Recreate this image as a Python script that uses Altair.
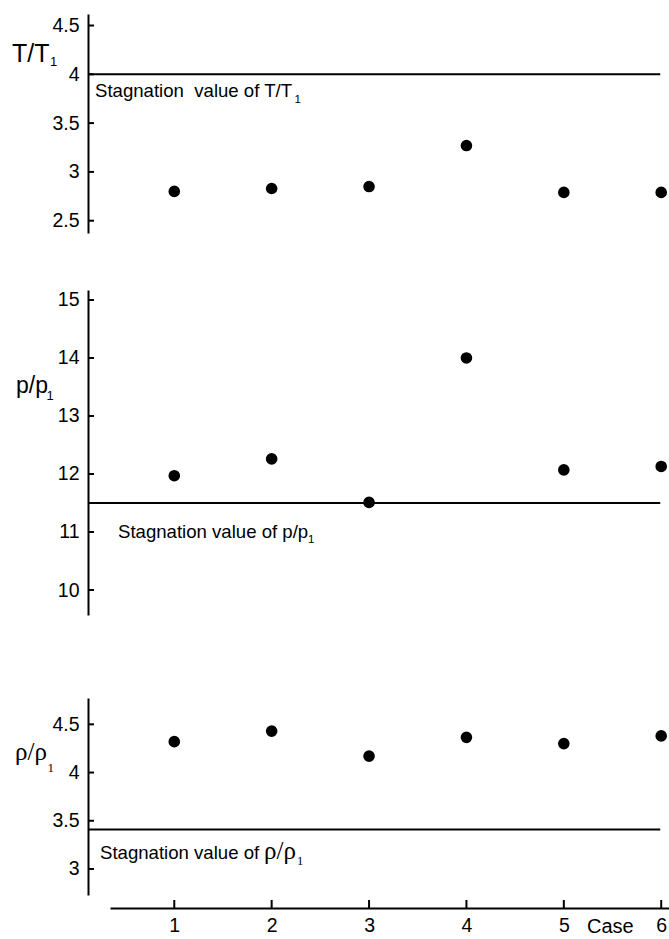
import altair as alt
import pandas as pd

# ---- data -------------------------------------------------------------
cases = [1, 2, 3, 4, 5, 6]

temp_ratio = [2.80, 2.83, 2.85, 3.27, 2.79, 2.79]          # T/T1
pressure_ratio = [11.97, 12.26, 11.51, 14.00, 12.07, 12.13]  # p/p1
density_ratio = [4.32, 4.43, 4.17, 4.365, 4.30, 4.38]      # rho/rho1

stag_temp = 4.0
stag_pressure = 11.5
stag_density = 3.41
# stagnation lines run from the y axis to the last case
stag_line_start = 0.114
stag_line_end = 5.99

temp_ticks = [2.5, 3, 3.5, 4, 4.5]
pressure_ticks = [10, 11, 12, 13, 14, 15]
density_ticks = [3, 3.5, 4, 4.5]

SANS = "Liberation Sans"
SERIF = "Liberation Serif"
TICK_FS = 19.5
NOTE_FS = 18.6

# ---- shared x scale (case number) -----------------------------------------
x_scale = alt.Scale(domain=[0.34, 6.08], range=[22, 581], nice=False, zero=False)

x_axis = alt.Axis(
    values=cases, format="d", title=None, orient="bottom",
    tickSize=0, labelPadding=8, labelFlush=False,
    domainWidth=2, domainColor="black", labelColor="black",
    labelFont=SANS, labelFontSize=TICK_FS, grid=False,
)


def y_axis(ticks):
    return alt.Axis(
        values=ticks, format="~g", title=None, orient="left",
        tickSize=0, labelPadding=9, labelFlush=False,
        domainWidth=2, domainColor="black", labelColor="black",
        labelFont=SANS, labelFontSize=TICK_FS, grid=False,
    )


def text(label, x, y, size, font=SANS):
    return alt.Chart(pd.DataFrame({"s": [label]})).mark_text(
        align="left", baseline="alphabetic", font=font, fontSize=size, color="black"
    ).encode(x=alt.value(x), y=alt.value(y), text="s:N")


def panel(values, ticks, stag, domain, y_range):
    ys = alt.Scale(domain=domain, range=y_range, nice=False, zero=False)

    points = alt.Chart(pd.DataFrame({"case": cases, "v": values})).mark_circle(
        size=135, color="black", opacity=1
    ).encode(
        x=alt.X("case:Q", scale=x_scale, axis=x_axis),
        y=alt.Y("v:Q", scale=ys, axis=y_axis(ticks)),
    )

    # inward-pointing y ticks
    tick_marks = alt.Chart(pd.DataFrame({"t": ticks})).mark_rule(
        color="black", strokeWidth=2
    ).encode(
        x=alt.value(0), x2=alt.value(6),
        y=alt.Y("t:Q", scale=ys, axis=None),
    )

    # stagnation reference line
    stag_line = alt.Chart(pd.DataFrame({
        "v": [stag], "start": [stag_line_start], "end": [stag_line_end]
    })).mark_rule(color="black", strokeWidth=2).encode(
        x=alt.X("start:Q", scale=x_scale, axis=x_axis),
        x2=alt.X2("end:Q"),
        y=alt.Y("v:Q", scale=ys, axis=None),
    )
    return [points, stag_line, tick_marks]


temp_layers = panel(temp_ratio, temp_ticks, stag_temp, [2.374, 4.618], [233, 14])
pressure_layers = panel(pressure_ratio, pressure_ticks, stag_pressure, [9.569, 15.172], [615, 290])
density_layers = panel(density_ratio, density_ticks, stag_density, [2.730, 4.773], [895, 698])

# upward x ticks on the case axis
x_ticks = alt.Chart(pd.DataFrame({"case": cases})).mark_rule(
    color="black", strokeWidth=2
).encode(
    x=alt.X("case:Q", scale=x_scale, axis=x_axis),
    y=alt.value(900), y2=alt.value(908),
)

labels = [
    # T/T1
    text("T/T", -76, 61.5, 25),
    text("1", -38, 66, 13),
    text("Stagnation\u00a0 value of T/T", 7, 97, NOTE_FS),
    text("1", 206.5, 102.5, 11.5),
    # p/p1
    text("p/p", -72, 393, 23),
    text("1", -41.5, 399.5, 13),
    text("Stagnation value of p/p", 30, 538, NOTE_FS),
    text("1", 220, 542.5, 11.5),
    # rho/rho1
    text("ρ/ρ", -73, 760, 25, SERIF),
    text("1", -40.5, 772, 13, SERIF),
    text("Stagnation value of", 12, 859, NOTE_FS),
    text("ρ/ρ", 176, 859, 25, SERIF),
    text("1", 209, 865, 12.5, SERIF),
    # x title
    text("Case", 499, 933, 20),
]

chart = alt.layer(
    *density_layers, *temp_layers, *pressure_layers, x_ticks, *labels
).resolve_scale(
    y="independent"
).resolve_axis(
    y="independent"
).properties(
    width=581,
    height=908,
    autosize=alt.AutoSizeParams(type="none"),
    padding={"left": 88, "top": 0, "right": 0, "bottom": 31},
).configure_view(
    stroke=None
)

chart.save("out.html", embed_options={"renderer": "svg", "actions": False})
